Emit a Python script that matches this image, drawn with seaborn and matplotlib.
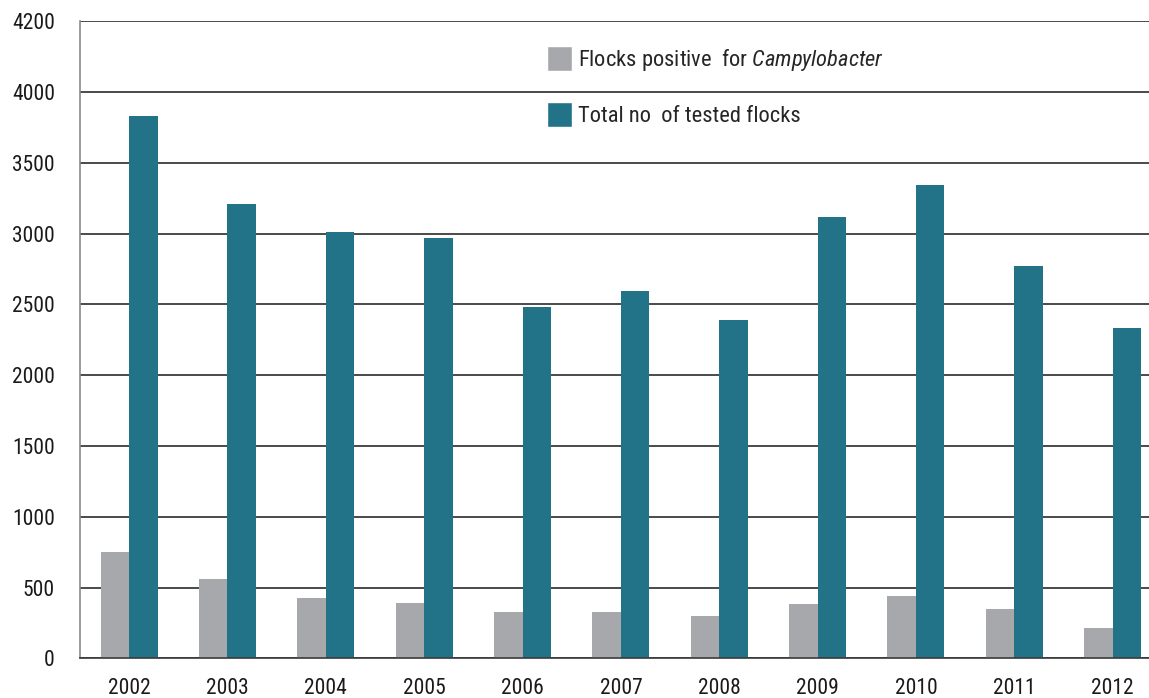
import pandas as pd
import matplotlib
matplotlib.use("Agg")
import matplotlib.pyplot as plt
from matplotlib import font_manager
from matplotlib.patches import Patch
import seaborn as sns

# data
years = ["2002", "2003", "2004", "2005", "2006", "2007",
         "2008", "2009", "2010", "2011", "2012"]
positive_flocks = [752, 562, 426, 389, 327, 327, 297, 382, 440, 351, 215]
tested_flocks = [3830, 3210, 3010, 2970, 2480, 2595, 2390, 3115, 3345, 2775, 2335]
# the top gridline sits one full step above 4000 but is labelled 4200
y_ticks = [0, 500, 1000, 1500, 2000, 2500, 3000, 3500, 4000, 4500]
y_tick_labels = ["0", "500", "1000", "1500", "2000", "2500",
                 "3000", "3500", "4000", "4200"]

label_pos = "Flocks positive  for $\\mathit{Campylobacter}$"
label_tot = "Total no  of tested flocks"
colors = {"pos": "#a7a8ab", "tot": "#227388"}

sns.set_style("white")
installed = {f.name for f in font_manager.fontManager.ttflist}
font = "Liberation Sans"
for cand in ["Liberation Sans Narrow", "Roboto Condensed", "DejaVu Sans Condensed"]:
    if cand in installed:
        font = cand
        break
plt.rcParams["font.family"] = [font, "DejaVu Sans"]
plt.rcParams["mathtext.fontset"] = "custom"
plt.rcParams["mathtext.rm"] = font
plt.rcParams["mathtext.it"] = font + ":italic"

df = pd.DataFrame({
    "Year": years * 2,
    "Flocks": positive_flocks + tested_flocks,
    "Series": ["pos"] * len(years) + ["tot"] * len(years),
})

fig = plt.figure(figsize=(11.49, 6.98), dpi=100)
ax = fig.add_axes([0.0696, 0.0566, 0.9304, 0.9129])

sns.barplot(data=df, x="Year", y="Flocks", hue="Series", palette=colors,
            width=0.58, gap=0, saturation=1, ax=ax, legend=False,
            edgecolor="none")

ax.set_ylim(0, 4500)
ax.set_xlim(-0.5, 10.37)
ax.set_yticks(y_ticks)
ax.set_yticklabels(y_tick_labels)
ax.set_xlabel("")
ax.set_ylabel("")
ax.set_axisbelow(True)
ax.yaxis.grid(True, color="#2b2b2b", linewidth=1.2)
ax.xaxis.grid(False)
ax.tick_params(axis="both", length=0, labelsize=15.5, colors="#1a1a1a")
ax.tick_params(axis="x", pad=14)
ax.tick_params(axis="y", pad=18)

for side in ["top", "right"]:
    ax.spines[side].set_visible(False)
ax.spines["left"].set_color("#8a8a8a")
ax.spines["left"].set_linewidth(1.2)
ax.spines["bottom"].set_color("#3a3a3a")
ax.spines["bottom"].set_linewidth(1.2)

handles = [Patch(facecolor=colors["pos"], label=label_pos),
           Patch(facecolor=colors["tot"], label=label_tot)]
fig.legend(handles=handles, loc="upper left",
           bbox_to_anchor=(547 / 1149, 1 - 46 / 698),
           frameon=False, fontsize=16.2, handlelength=1.1, handleheight=1.3,
           handletextpad=0.3, labelspacing=1.3, borderpad=0, borderaxespad=0)

fig.savefig("out.png", dpi=100)
